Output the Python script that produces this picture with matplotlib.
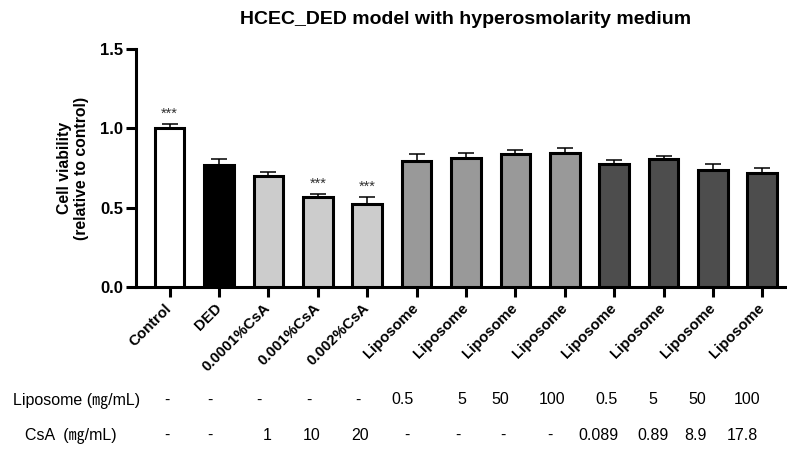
import matplotlib
matplotlib.use("Agg")
import matplotlib.pyplot as plt
import numpy as np

plt.rcParams['font.family'] = ['Liberation Sans', 'Noto Sans CJK JP', 'DejaVu Sans']

categories = ["Control", "DED", "0.0001%CsA", "0.001%CsA", "0.002%CsA",
              "Liposome", "Liposome", "Liposome", "Liposome",
              "Liposome", "Liposome", "Liposome", "Liposome"]
values = [1.00, 0.77, 0.70, 0.565, 0.52, 0.795, 0.815, 0.84, 0.845, 0.775, 0.807, 0.74, 0.72]
errors = [0.025, 0.034, 0.023, 0.019, 0.044, 0.045, 0.03, 0.024, 0.031, 0.027, 0.017, 0.034, 0.028]
colors = ["#ffffff", "#000000", "#cccccc", "#cccccc", "#cccccc",
          "#999999", "#999999", "#999999", "#999999",
          "#4d4d4d", "#4d4d4d", "#4d4d4d", "#4d4d4d"]
signif = ["***", "", "", "***", "***", "", "", "", "", "", "", "", ""]
liposome_row = ["-", "-", "-", "-", "-", "0.5", "5", "50", "100", "0.5", "5", "50", "100"]
csa_row = ["-", "-", "1", "10", "20", "-", "-", "-", "-", "0.089", "0.89", "8.9", "17.8"]
title = "HCEC_DED model with hyperosmolarity medium"
ylabel = "Cell viability\n(relative to control)"
row_labels = ["Liposome (\u338e/mL)", "CsA  (\u338e/mL)"]

# layout of the annotation rows (pixel positions in the 787x450 figure)
row1_px = [167, 210, 259, 309, 358, 402, 462, 500, 552, 607, 653, 697, 747]
row2_px = [167, 210, 267, 312, 360, 407, 458, 503, 550, 598, 653, 695, 742]
row_y_px = [400, 435]
row_label_x_px = [13, 25]

W, H = 787, 450
fig = plt.figure(figsize=(W / 100, H / 100), dpi=100)
ax = fig.add_axes([0.1728, 0.3629, 0.8272, 0.5276])

x = np.arange(len(categories))
lw = 2.2
ax.bar(x, values, width=0.6, color=colors, edgecolor="black", linewidth=lw, zorder=3)
ax.errorbar(x, values, yerr=[np.zeros(len(values)), errors], fmt="none",
            ecolor="black", elinewidth=1.1, capsize=6, capthick=1.1, zorder=2)

for xi, v, e, s in zip(x, values, errors, signif):
    if s:
        ax.text(xi, v + e + 0.025, s, ha="center", va="bottom", fontsize=10.5, color="#333333")

ax.set_xlim(-0.68, 12.5)
ax.set_ylim(0, 1.5)
ax.set_yticks([0, 0.5, 1.0, 1.5])
ax.set_yticklabels(["0.0", "0.5", "1.0", "1.5"], fontsize=12, fontweight="bold")
ax.set_xticks(x)
ax.set_xticklabels(categories, rotation=45, ha="right", va="center", rotation_mode="anchor",
                   fontsize=10.8, fontweight="bold")
ax.tick_params(axis="both", width=lw, length=7, direction="out")
ax.tick_params(axis="x", pad=7)
ax.tick_params(axis="y", pad=2)
for sp in ["top", "right"]:
    ax.spines[sp].set_visible(False)
for sp in ["left", "bottom"]:
    ax.spines[sp].set_linewidth(lw)

ax.set_ylabel(ylabel, fontsize=11.3, fontweight="bold", labelpad=8)
fig.text(466 / W, 1 - 20 / H, title, ha="center", va="center", fontsize=14, fontweight="bold")

# annotation rows below the axis
for ry, row_px, row in zip(row_y_px, [row1_px, row2_px], [liposome_row, csa_row]):
    for px, t in zip(row_px, row):
        fig.text(px / W, 1 - ry / H, t, ha="center", va="center", fontsize=11.5)
for ry, lab, xl in zip(row_y_px, row_labels, row_label_x_px):
    fig.text(xl / W, 1 - ry / H, lab, ha="left", va="center", fontsize=11.5)

fig.savefig("out.png", dpi=100)
